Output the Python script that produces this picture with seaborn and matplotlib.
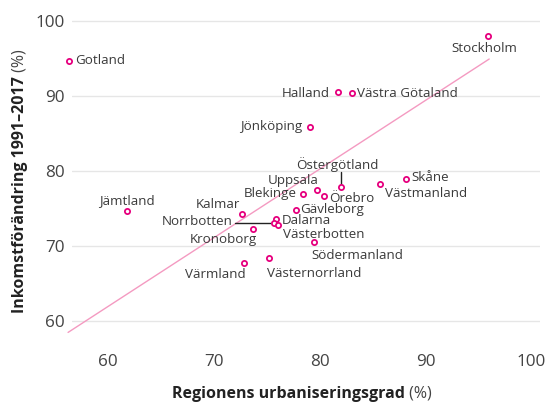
import numpy as np
import pandas as pd
import matplotlib
matplotlib.use("Agg")
import matplotlib.pyplot as plt
import seaborn as sns

# Data
regions = ["Gotland", "Stockholm", "Halland", "Västra Götaland", "Jönköping",
           "Skåne", "Västmanland", "Östergötland", "Uppsala", "Örebro",
           "Blekinge", "Gävleborg", "Dalarna", "Norrbotten", "Västerbotten",
           "Kalmar", "Kronoborg", "Södermanland", "Västernorrland", "Värmland",
           "Jämtland"]
urbanisering = [56.3, 95.9, 81.7, 83.0, 79.1,
                88.1, 85.7, 82.0, 79.7, 80.4,
                78.4, 77.7, 75.85, 75.65, 76.05,
                72.6, 73.7, 79.4, 75.2, 72.8,
                61.8]
inkomst = [94.7, 98.0, 90.5, 90.4, 85.9,
           78.9, 78.3, 77.8, 77.4, 76.6,
           76.9, 74.8, 73.6, 73.1, 72.8,
           74.2, 72.3, 70.5, 68.4, 67.8,
           74.6]
trend_x = [56.2, 96.0]
trend_y = [58.5, 94.9]
x_ticks = [60, 70, 80, 90, 100]
y_ticks = [60, 70, 80, 90, 100]

# Label placement: offset in pixels (dx, dy down positive) and alignment
label_pos = {
    "Gotland": (6, 0, "left"),
    "Stockholm": (-4, 13, "center"),
    "Halland": (-8, 1, "right"),
    "Västra Götaland": (5, 1, "left"),
    "Jönköping": (-8, 0, "right"),
    "Skåne": (6, -2, "left"),
    "Västmanland": (5, 10, "left"),
    "Östergötland": (-4, -23, "center"),
    "Uppsala": (2, -10, "right"),
    "Örebro": (5, 2, "left"),
    "Blekinge": (-6, -1, "right"),
    "Gävleborg": (5, 0, "left"),
    "Dalarna": (6, 2, "left"),
    "Norrbotten": (-41, -1, "right"),
    "Västerbotten": (5, 9, "left"),
    "Kalmar": (-1, -10, "right"),
    "Kronoborg": (4, 11, "right"),
    "Södermanland": (-2, 13, "left"),
    "Västernorrland": (-2, 15, "left"),
    "Värmland": (2, 12, "right"),
    "Jämtland": (0, -11, "center"),
}

MAGENTA = "#e6007e"
TREND = "#f49ac1"
TEXT = "#3a3a3a"
GRID = "#e6e6e6"

sns.set_theme(style="white")
plt.rcParams["font.family"] = ["Open Sans", "DejaVu Sans"]
plt.rcParams["text.color"] = TEXT

df = pd.DataFrame({"region": regions, "urb": urbanisering, "ink": inkomst})

fig = plt.figure(figsize=(5.48, 4.05), dpi=100)
ax = fig.add_axes([0.1308, 0.1607, 0.8546, 0.8067])
ax.set_xlim(56.54, 100.8)
ax.set_ylim(57.5, 101)

for y in y_ticks:
    ax.axhline(y, color=GRID, lw=1, zorder=0)

ax.plot(trend_x, trend_y, color=TREND, lw=1, clip_on=False, zorder=1)

sns.scatterplot(data=df, x="urb", y="ink", ax=ax, s=14, marker="o",
                facecolor="white", edgecolor=MAGENTA, linewidth=1.3,
                zorder=3, clip_on=False, legend=False)

for name, xv, yv in zip(regions, urbanisering, inkomst):
    dx, dy, ha = label_pos[name]
    ax.annotate(name, (xv, yv), xytext=(dx, -dy), textcoords="offset pixels",
                ha=ha, va="center", fontsize=9.6, color=TEXT, zorder=4,
                annotation_clip=False)

# leader lines
i = regions.index("Östergötland")
ax.plot([urbanisering[i], urbanisering[i]], [inkomst[i] + 0.35, inkomst[i] + 2.1],
        color="#222222", lw=1, zorder=2)
j = regions.index("Norrbotten")
ax.plot([urbanisering[j] - 3.7, urbanisering[j]], [inkomst[j], inkomst[j]],
        color="#222222", lw=1, zorder=2)

ax.set_xticks(x_ticks)
ax.set_yticks(y_ticks)
ax.tick_params(axis="both", length=0, labelsize=12.3, labelcolor="#444444")
ax.tick_params(axis="x", pad=10)
ax.tick_params(axis="y", pad=5)
for s in ax.spines.values():
    s.set_visible(False)
ax.set_xlabel("")
ax.set_ylabel("")

# axis titles with bold part + normal "(%)"
fig.canvas.draw()
r = fig.canvas.get_renderer()

xb = fig.text(0, 0, "Regionens urbaniseringsgrad", fontsize=11.5,
              fontweight="bold", ha="left", va="center", color="#222222")
xn = fig.text(0, 0, " (%)", fontsize=11.5, ha="left", va="center", color="#444444")
wb = xb.get_window_extent(r).width
wn = xn.get_window_extent(r).width
cx = 302
x0 = cx - (wb + wn) / 2
xb.set_position((x0 / 548, 1 - 394 / 405))
xn.set_position(((x0 + wb) / 548, 1 - 394 / 405))

yb = fig.text(20 / 548, 0, "Inkomstförändring 1991–2017", fontsize=11.5,
              fontweight="bold", rotation=90, ha="center", va="bottom", color="#222222")
yn = fig.text(20 / 548, 0, " (%)", fontsize=11.5, rotation=90,
              ha="center", va="bottom", color="#444444")
hb = yb.get_window_extent(r).height
hn = yn.get_window_extent(r).height
cy = 405 - 181
y0 = cy - (hb + hn) / 2
yb.set_y(y0 / 405)
yn.set_y((y0 + hb) / 405)

fig.savefig("out.png", dpi=100)
